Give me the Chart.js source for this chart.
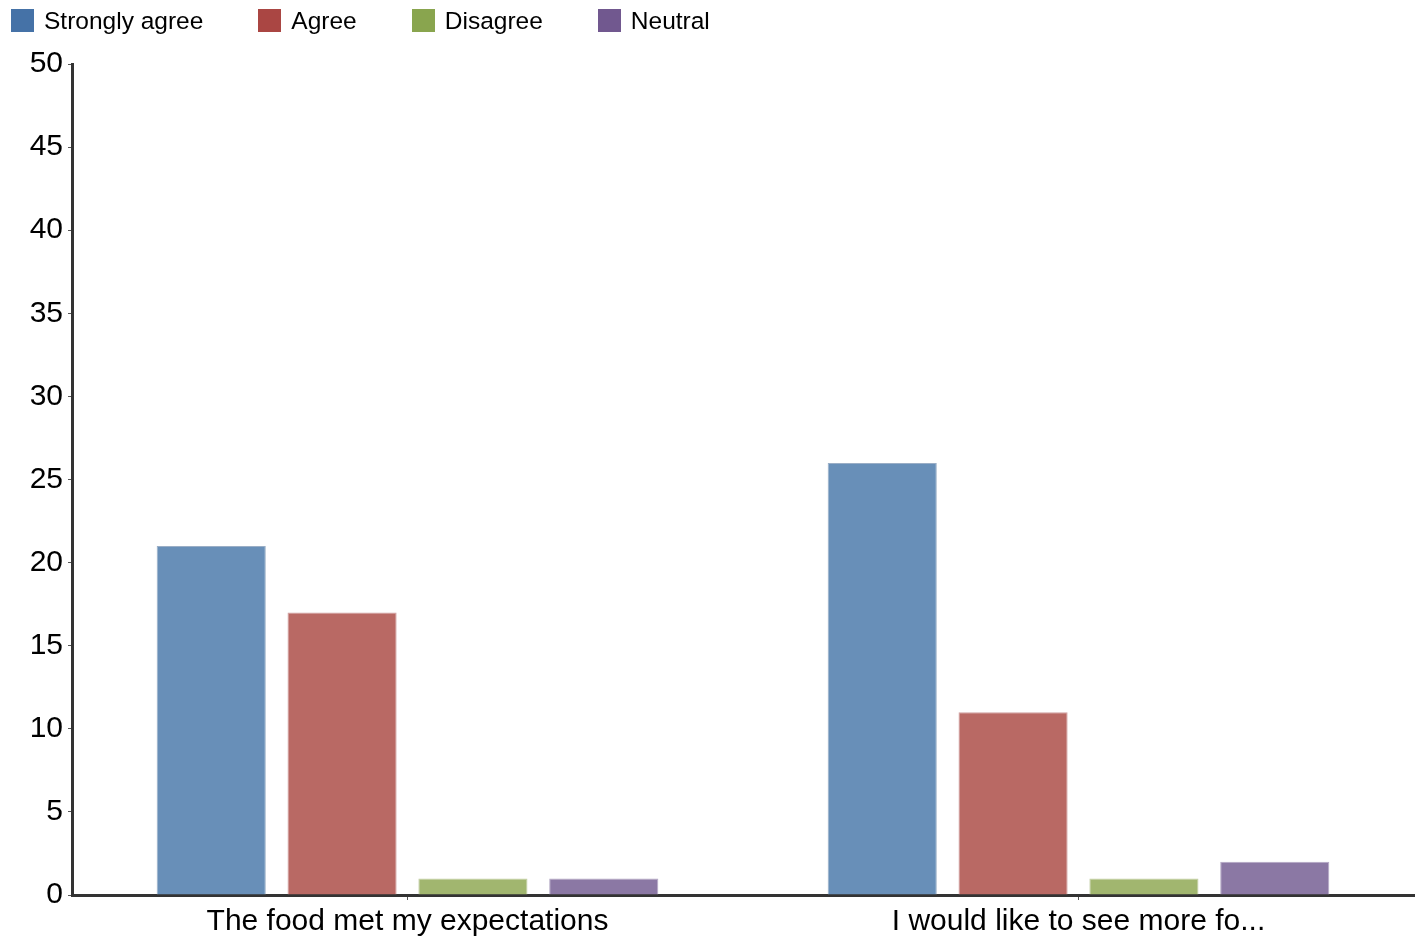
<!DOCTYPE html>
<html>
<head>
<meta charset="utf-8">
<script src="https://cdn.jsdelivr.net/npm/chart.js@4"></script>
<style>
    body { margin: 0; background: #fff; font-family: "Liberation Sans", Arial, sans-serif; }
    #wrap { position: relative; width: 1426px; height: 940px; }
    #legend { position: absolute; left: 11px; top: 9px; display: flex; gap: 55px; font-size: 24.5px; color: #000; }
    .item { display: flex; align-items: center; height: 23px; }
    .box { width: 23px; height: 23px; margin-right: 10px; }
</style>
</head>
<body>
<div id="wrap">
    <div id="legend"></div>
    <canvas id="chart" width="1426" height="940"></canvas>
</div>
<script>
// Survey responses per question

const categories = ['The food met my expectations', 'I would like to see more fo...'];
const seriesNames = ['Strongly agree', 'Agree', 'Disagree', 'Neutral'];
const stronglyAgree = [21, 26];
const agree = [17, 11];
const disagree = [1, 1];
const neutral = [1, 2];

const legendColors = ['#4572a7', '#aa4643', '#89a54e', '#71588f'];
const barColors = ['#688fb8', '#b96964', '#a1b66f', '#8b78a4'];
const borderColors = ['#9aaec6', '#cfa0a0', '#c3cfa4', '#b3a7c4'];

function buildLegend() {
    const el = document.getElementById('legend');
    seriesNames.forEach((name, i) => {
        const item = document.createElement('div');
        item.className = 'item';
        const box = document.createElement('span');
        box.className = 'box';
        box.style.background = legendColors[i];
        const label = document.createElement('span');
        label.textContent = name;
        item.appendChild(box);
        item.appendChild(label);
        el.appendChild(item);
    });
}

function createDatasets() {
    const values = [stronglyAgree, agree, disagree, neutral];
    return seriesNames.map((name, i) => ({
        label: name,
        data: values[i],
        backgroundColor: barColors[i],
        borderColor: borderColors[i],
        borderWidth: 1,
        categoryPercentage: 0.78,
        barPercentage: 0.834
    }));
}

const xFont = { family: '"Liberation Sans", Arial, sans-serif', size: 30 };
const yFont = { family: '"Liberation Sans", Arial, sans-serif', size: 30 };

buildLegend();

new Chart(document.getElementById('chart').getContext('2d'), {
    type: 'bar',
    data: {
        labels: categories,
        datasets: createDatasets()
    },
    options: {
        responsive: false,
        animation: false,
        layout: { padding: { top: 64, right: 12, left: 0, bottom: 0 } },
        plugins: {
            legend: { display: false },
            tooltip: { enabled: false }
        },
        scales: {
            x: {
                afterFit: (scale) => { scale.height = 45; },
                grid: { drawOnChartArea: false, offset: false, tickLength: 5, tickColor: '#555', lineWidth: 1 },
                border: { display: true, color: '#333', width: 3 },
                ticks: { color: '#000', font: xFont, padding: 4, maxRotation: 0 }
            },
            y: {
                min: 0,
                max: 50,
                afterFit: (scale) => { scale.width = 72; },
                grid: { drawOnChartArea: false, tickLength: 4, tickColor: '#555', lineWidth: 1 },
                border: { display: true, color: '#333', width: 3 },
                ticks: { stepSize: 5, color: '#000', font: yFont, padding: 5 }
            }
        }
    }
});
</script>
</body>
</html>
